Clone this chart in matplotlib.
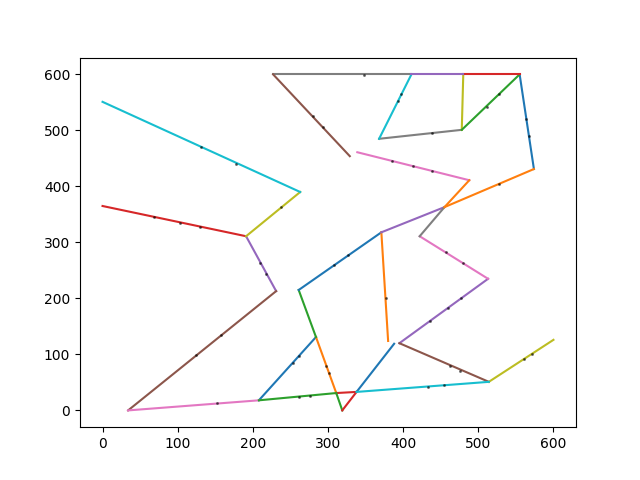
import matplotlib
matplotlib.use('Agg')
import matplotlib.pyplot as plt

# edges: start and end points, drawn one by one (default colour cycle)
x0 = [208, 284, 261, 0, 191, 231, 34, 227, 263, 0,
      261, 371, 208, 311, 371, 227, 339, 368, 480, 368,
      338, 455, 311, 319, 395, 395, 422, 422, 514, 338,
      555, 455, 478, 480, 411]
y0 = [18, 131, 215, 365, 311, 213, 0, 600, 390, 551,
      215, 318, 18, 31, 318, 600, 461, 485, 600, 485,
      33, 363, 31, 0, 120, 120, 311, 311, 51, 33,
      600, 363, 501, 600, 600]
x1 = [284, 311, 284, 191, 231, 34, 208, 411, 191, 263,
      371, 380, 311, 338, 455, 329, 488, 478, 478, 411,
      388, 488, 319, 338, 513, 514, 513, 455, 600, 514,
      574, 574, 555, 555, 480]
y1 = [131, 31, 131, 311, 213, 0, 18, 600, 311, 390,
      318, 124, 31, 33, 363, 454, 411, 501, 501, 600,
      119, 411, 0, 33, 235, 51, 235, 363, 126, 51,
      431, 431, 600, 600, 600]

# small points lying on the edges
mx = [131, 178, 238, 68, 103, 130, 210, 218, 157, 124,
      152, 261, 276, 253, 261, 298, 301, 308, 327, 377,
      436, 460, 477, 457, 480, 462, 476, 433, 454, 561,
      572, 385, 413, 438, 528, 563, 567, 511, 528, 439,
      397, 393, 348, 280, 293]
my = [470, 440, 363, 345, 334, 327, 264, 244, 135, 99,
      14, 24, 26, 85, 97, 79, 67, 259, 277, 200,
      160, 183, 200, 282, 263, 80, 71, 42, 45, 92,
      101, 445, 436, 428, 404, 520, 490, 542, 565, 495,
      565, 552, 599, 525, 506]

fig = plt.figure(figsize=(6.4, 4.8), dpi=100)
for i in range(len(x0)):
    plt.plot([x0[i], x1[i]], [y0[i], y1[i]])
plt.plot(mx, my, 'o', color='k', markersize=1.2, alpha=0.45)
plt.savefig('out.png')
